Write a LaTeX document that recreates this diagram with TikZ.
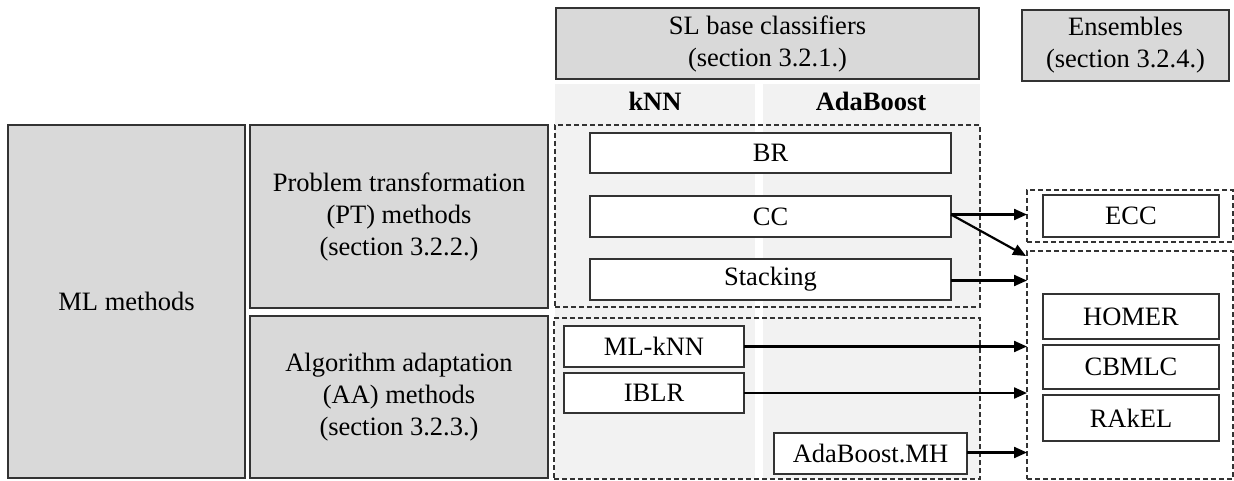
\documentclass[tikz,border=0pt]{standalone}
\usepackage{fontspec}
\setmainfont{Liberation Serif}
\usetikzlibrary{arrows.meta}
\definecolor{hdr}{HTML}{D9D9D9}
\definecolor{col}{HTML}{F2F2F2}
\definecolor{edge}{HTML}{333333}
\begin{document}
\begin{tikzpicture}[x=1pt,y=-1pt,
  every node/.style={font=\fontsize{26.5}{32}\selectfont, text=black},
  rbox/.style={draw=edge, line width=1.4pt, inner sep=0pt, outer sep=0pt, anchor=north west, align=center},
  gbox/.style={rbox, fill=hdr},
  wbox/.style={rbox, fill=white},
  dbox/.style={draw=edge, line width=1.3pt, dash pattern=on 5pt off 3pt, inner sep=0pt, outer sep=0pt, anchor=north west},
  arr/.style={draw=black, line width=2.2pt, -{Triangle[length=13pt,width=11pt]}}
]
\useasboundingbox (0,0) rectangle (1234,481);
% column backgrounds
\fill[col] (555,84) rectangle (755,479);
\fill[col] (763,84) rectangle (980,479);
\node[font=\fontsize{26.5}{32}\selectfont\bfseries] (knn) at (655,101) {kNN};
\node[font=\fontsize{26.5}{32}\selectfont\bfseries] (ada) at (871,101) {AdaBoost};
% headers
\node[gbox, minimum width=423pt, minimum height=71pt] (sl) at (556,8) {SL base classifiers\\(section 3.2.1.)};
\node[gbox, minimum width=207pt, minimum height=71pt] (ens) at (1022,10) {Ensembles\\(section 3.2.4.)};
% left boxes
\node[gbox, minimum width=237pt, minimum height=353pt] (ml) at (8,125) {ML methods};
\node[gbox, minimum width=298pt, minimum height=183pt] (pt) at (250,125) {Problem transformation\\(PT) methods\\(section 3.2.2.)};
\node[gbox, minimum width=298pt, minimum height=162pt] (aa) at (250,316) {Algorithm adaptation\\(AA) methods\\(section 3.2.3.)};
% dashed groups
\node[dbox, minimum width=425pt, minimum height=182pt] (ptg) at (555,125) {};
\node[dbox, minimum width=426pt, minimum height=161pt] (aag) at (554,318) {};
\node[dbox, minimum width=206pt, minimum height=52pt] (eccg) at (1027,190) {};
\node[dbox, minimum width=206pt, minimum height=228pt] (eng) at (1027,251) {};
% PT methods
\node[wbox, minimum width=361pt, minimum height=40pt] (br) at (590,133) {BR};
\node[wbox, minimum width=361pt, minimum height=41pt] (cc) at (590,196) {CC};
\node[wbox, minimum width=361pt, minimum height=41pt] (st) at (590,259) {Stacking};
% AA methods
\node[wbox, minimum width=180pt, minimum height=41pt] (mlknn) at (564,326) {ML-kNN};
\node[wbox, minimum width=180pt, minimum height=40pt] (iblr) at (564,373) {IBLR};
\node[wbox, minimum width=193pt, minimum height=41pt] (adamh) at (774,433) {AdaBoost.MH};
% ensembles
\node[wbox, minimum width=176pt, minimum height=42pt] (ecc) at (1043,195) {ECC};
\node[wbox, minimum width=176pt, minimum height=45pt] (homer) at (1043,294) {HOMER};
\node[wbox, minimum width=176pt, minimum height=44pt] (cbmlc) at (1043,345) {CBMLC};
\node[wbox, minimum width=176pt, minimum height=46pt] (rakel) at (1043,395) {RAkEL};
% arrows
\coordinate (ccin) at (1026,256);
\draw[arr] ([yshift=2pt]cc.east) -- ([yshift=2pt]cc.east -| eccg.west);
\draw[arr] ([yshift=2pt]cc.east) -- (ccin);
\draw[arr] ([yshift=-1pt]st.east) -- ([yshift=-1pt]st.east -| eng.west);
\draw[arr] (mlknn.east) -- (mlknn.east -| eng.west);
\draw[arr] (iblr.east) -- (iblr.east -| eng.west);
\draw[arr] ([yshift=1pt]adamh.east) -- ([yshift=1pt]adamh.east -| eng.west);
\end{tikzpicture}
\end{document}
